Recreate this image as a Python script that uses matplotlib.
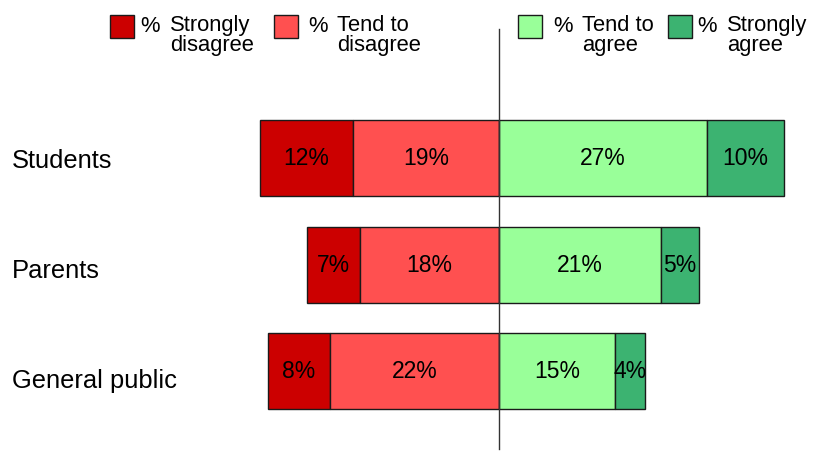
import numpy as np
import matplotlib.pyplot as plt
from matplotlib.patches import Rectangle

plt.rcParams['font.family'] = ['Liberation Sans', 'DejaVu Sans']

groups = ['Students', 'Parents', 'General public']
strongly_disagree = [12, 7, 8]
tend_disagree = [19, 18, 22]
tend_agree = [27, 21, 15]
strongly_agree = [10, 5, 4]

series_names = ['Strongly\ndisagree', 'Tend to\ndisagree',
                'Tend to\nagree', 'Strongly\nagree']
colors = ['#CC0000', '#FF5050', '#99FF99', '#3CB371']

W, H = 813, 452
fig = plt.figure(figsize=(W / 100, H / 100), dpi=100)
ax = fig.add_axes([0, 0, 1, 1])

# x in percent, zero at the divider; y in row index
px_per_pct = 7.7
x0 = 499
ax.set_xlim(-x0 / px_per_pct, (W - x0) / px_per_pct)
row_gap = 106.5
first_row = 159
ax.set_ylim((H - first_row) / row_gap, -first_row / row_gap)
ax.axis('off')

sd = np.array(strongly_disagree)
td = np.array(tend_disagree)
ta = np.array(tend_agree)
sa = np.array(strongly_agree)
y = np.arange(len(groups))
h = 76 / row_gap

segments = [(-(sd + td), sd), (-td, td), (np.zeros_like(ta), ta), (ta, sa)]
for (left, width), c in zip(segments, colors):
    bars = ax.barh(y, width, left=left, height=h, color=c,
                   edgecolor='#1a1a1a', linewidth=1)
    ax.bar_label(bars, labels=[f'{v}%' for v in width], label_type='center',
                 fontsize=16.5, color='black')

ax.axvline(0, ymin=1 - 450 / H, ymax=1 - 30 / H, color='#333333', linewidth=1)

# row labels sit on their own, slightly wider spacing
for i, g in enumerate(groups):
    fig.text(12 / W, 1 - (168.3 + i * 110) / H, g, fontsize=18.4,
             ha='left', va='baseline')

# legend: coloured box, '%' and a two-line label
# (multi-line text with va='baseline' anchors on its last line)
legend_pos = [(110, 140, 170), (274, 308, 337), (518, 553, 582), (668, 697, 727)]
for (bx, px, tx), c, name in zip(legend_pos, colors, series_names):
    fig.patches.append(Rectangle((bx / W, 1 - 39 / H), 24 / W, 23 / H,
                                 transform=fig.transFigure, facecolor=c,
                                 edgecolor='#1a1a1a', linewidth=1))
    fig.text(px / W, 1 - 31.7 / H, '%', fontsize=15.8, va='baseline')
    fig.text(tx / W, 1 - 50.5 / H, name, fontsize=15.8, va='baseline',
             linespacing=0.9)

fig.savefig('out.png', dpi=100)
